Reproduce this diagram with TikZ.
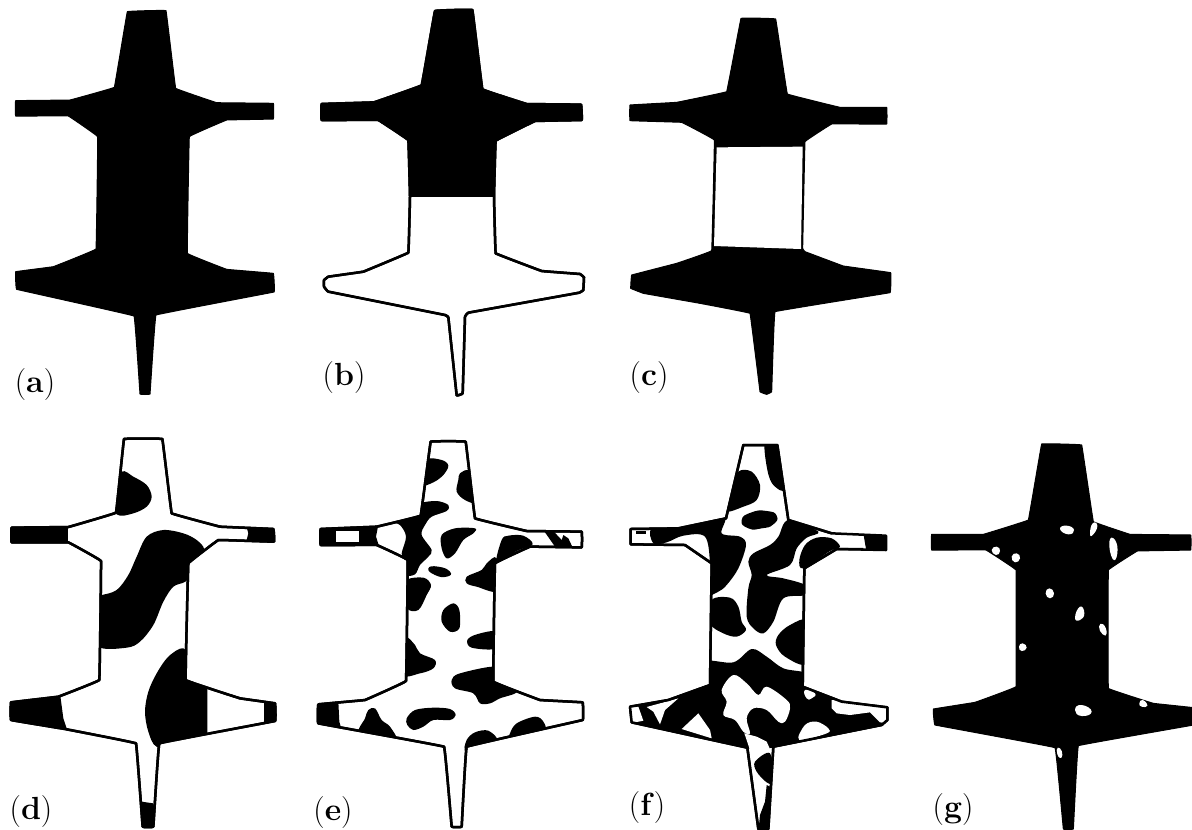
\documentclass[tikz,border=0pt]{standalone}
\tikzset{
  outln/.style={draw=black,line width=1.25pt,line join=round,fill=white},
  edgeonly/.style={draw=black,line width=1.25pt,line join=round},
  solid panel/.style={fill=black,draw=black,line width=0.5pt,line join=round},
  panellabel/.style={font=\fontsize{16}{18}\selectfont,inner sep=0pt},
  zoomed/.style={shift={#1},x=0.166667pt,y=-0.166667pt},
  bent/.style={smooth cycle,tension=.03}
}
\newcommand{\blk}[1]{\fill[black] plot[smooth cycle,tension=.55] coordinates {#1};}
\newcommand{\wht}[1]{\fill[white] plot[smooth cycle,tension=.6] coordinates {#1};}
\newcommand{\wspot}[1]{\fill[white] plot[smooth cycle,tension=1] coordinates {#1};}
\newcommand{\bspot}[1]{\fill[black] plot[smooth cycle,tension=1] coordinates {#1};}
\newcommand{\blkp}[1]{\fill[black] plot[sharp cycle] coordinates {#1};}
\newcommand{\whtp}[1]{\fill[white] plot[sharp cycle] coordinates {#1};}
\def\outA{plot[bent] coordinates {(382,35)(498,32)(527,265)(650,308)(820,310)(820,357)(680,360)(568,410)(562,760)(680,808)(820,820)(822,876)(468,945)(450,1182)(420,1182)(402,948)(50,868)(47,815)(160,800)(288,747)(293,410)(205,348)(47,348)(47,302)(210,300)(343,262)}}
\def\outB{plot[bent] coordinates {(405,33)(517,30)(547,268)(680,312)(843,314)(845,360)(705,363)(587,422)(582,590)(587,760)(725,813)(840,822)(852,832)(850,870)(838,878)(505,938)(495,950)(488,1180)(470,1186)(445,952)(435,945)(85,875)(72,860)(72,840)(85,830)(190,815)(325,758)(330,590)(325,420)(235,360)(65,360)(65,312)(222,307)(365,256)}}
\def\outC{plot[bent] coordinates {(393,55)(497,57)(532,282)(690,322)(830,322)(830,372)(665,372)(585,425)(578,745)(585,755)(700,798)(842,818)(840,878)(495,935)(485,1175)(470,1183)(450,1175)(420,940)(270,910)(100,880)(62,865)(65,825)(200,790)(305,752)(313,420)(215,367)(60,362)(60,315)(200,307)(350,275)}}
\def\outD{plot[bent] coordinates {(372,42)(487,42)(515,265)(660,305)(820,312)(822,350)(655,345)(565,415)(557,765)(720,820)(825,835)(825,888)(478,955)(460,1205)(428,1205)(408,955)(195,912)(33,885)(33,832)(175,815)(298,765)(303,408)(205,352)(35,352)(35,308)(205,306)(348,263)}}
\def\outE{plot[bent] coordinates {(392,50)(497,50)(525,280)(680,318)(845,320)(845,367)(690,365)(585,415)(580,770)(720,825)(848,832)(848,885)(500,965)(485,1205)(455,1205)(432,965)(55,895)(55,838)(195,825)(318,768)(323,405)(230,360)(62,360)(62,312)(230,305)(362,272)}}
\def\outF{plot[sharp cycle] coordinates {(400,60)(502,60)(535,285)(665,325)(828,332)(828,375)(680,372)(583,430)(578,785)(695,830)(832,847)(832,885)(815,900)(490,965)(475,1212)(445,1212)(412,968)(65,892)(60,845)(175,825)(300,780)(305,415)(225,360)(62,358)(62,312)(205,310)(348,280)}}
\def\outG{plot[bent] coordinates {(425,57)(545,60)(580,290)(690,328)(872,330)(872,375)(712,378)(625,435)(625,790)(760,835)(880,848)(880,900)(535,962)(520,1212)(490,1212)(465,968)(105,900)(100,852)(225,832)(348,785)(348,435)(258,375)(95,375)(95,328)(250,328)(385,285)}}
\begin{document}
\begin{tikzpicture}[x=0.5pt,y=-0.5pt]
\useasboundingbox (0,0) rectangle (1192,829);
% (a)
\begin{scope}[zoomed={(0,0)}]
  \path[solid panel] \outA;
\end{scope}
% (b)
\begin{scope}[zoomed={(300,0)}]
  \path[outln] \outB;
  \begin{scope}
    \clip \outB;
    \blkp{(0,0)(900,0)(900,592)(0,592)}
  \end{scope}
  \path[edgeonly] \outB;
\end{scope}
% (c)
\begin{scope}[zoomed={(610,0)}]
  \path[solid panel] \outC;
  \whtp{(320,442)(578,440)(573,747)(312,738)}
\end{scope}
% (d)
\begin{scope}[zoomed={(0,425)}]
  \path[outln] \outD;
  \begin{scope}
    \clip \outD;
    \blk{(365,140)(400,155)(440,180)(455,215)(440,245)(400,265)(350,268)(330,200)}
    \blkp{(20,295)(205,295)(205,365)(20,365)}
    \blkp{(738,300)(745,325)(738,352)(835,360)(835,300)}
    \blk{(305,510)(350,495)(385,450)(410,395)(440,335)(490,315)(550,325)(590,345)(612,372)(590,400)(580,440)(556,470)(520,485)(490,530)(460,600)(420,650)(380,668)(295,665)(285,590)(285,510)}
    \blk{(550,670)(505,695)(470,745)(445,800)(435,860)(445,920)(470,965)(530,950)(530,760)(570,720)}
    \blkp{(510,690)(575,670)(575,760)(622,790)(622,935)(470,965)}
    \blkp{(180,805)(190,880)(205,925)(20,900)(20,820)}
    \blkp{(792,825)(792,895)(835,895)(835,825)}
    \blkp{(425,1130)(460,1135)(475,1215)(415,1215)}
  \end{scope}
  \path[edgeonly] \outD;
\end{scope}
% (e)
\begin{scope}[zoomed={(300,425)}]
  \path[outln] \outE;
  \begin{scope}
    \clip \outE;
    \blk{(375,105)(425,105)(445,122)(430,150)(400,172)(365,178)}
    \blk{(480,145)(510,140)(530,230)(495,225)(470,200)(475,165)}
    \blk{(360,235)(410,228)(445,240)(440,258)(395,275)(375,300)(365,330)(395,375)(385,395)(360,420)(345,448)(315,450)(312,410)(305,385)(318,335)(300,300)(270,285)(360,255)}
    \blkp{(45,300)(235,300)(228,335)(240,372)(45,372)}
    \whtp{(108,317)(178,317)(178,352)(108,352)}
    \blk{(425,330)(465,310)(525,310)(520,325)(490,345)(465,385)(440,400)(425,370)}
    \bspot{(385,430)(415,425)(450,440)(440,455)(405,450)}
    \blk{(315,470)(370,458)(393,480)(380,510)(355,555)(320,548)}
    \blk{(590,400)(560,415)(545,435)(500,455)(500,475)(530,485)(595,497)}
    \blk{(430,555)(460,535)(478,555)(478,610)(450,620)(425,590)}
    \blk{(590,620)(530,628)(502,645)(515,668)(590,670)}
    \blk{(315,640)(345,660)(360,685)(405,705)(400,730)(360,745)(305,748)}
    \blk{(590,725)(480,745)(455,765)(465,790)(520,805)(540,835)(570,835)(600,820)(650,800)(590,770)}
    \blkp{(45,830)(115,830)(118,890)(125,915)(45,905)}
    \blk{(205,855)(225,850)(245,885)(270,905)(285,945)(180,925)(195,880)}
    \blk{(320,880)(345,855)(400,848)(450,852)(467,870)(450,885)(400,885)(370,905)(340,915)(322,900)}
    \blk{(500,945)(525,922)(565,917)(590,950)(500,980)}
    \blk{(630,925)(650,895)(705,875)(730,890)(730,920)(630,950)}
    \blkp{(730,315)(757,315)(785,345)(790,330)(805,340)(820,372)(770,372)}
    \blk{(605,345)(625,332)(670,332)(698,358)(650,378)(590,415)}
  \end{scope}
  \path[edgeonly] \outE;
\end{scope}
% (f)
\begin{scope}[zoomed={(610,425)}]
  \path[outln] \outF;
  \begin{scope}
    \clip \outF;
    \blk{(465,50)(510,50)(525,190)(490,180)(472,135)}
    \blk{(385,140)(425,140)(450,180)(440,225)(400,245)(350,258)(365,200)}
    \bspot{(395,285)(425,262)(470,258)(500,272)(490,298)(455,310)(415,310)}
    \blkp{(78,318)(108,318)(108,326)(78,326)}
    \blk{(125,310)(205,308)(340,275)(335,325)(390,335)(408,360)(385,430)(350,480)(325,500)(295,505)(300,420)(285,335)(220,332)(170,352)(130,355)}
    \blk{(505,335)(535,285)(625,320)(590,338)(560,370)(540,420)(470,450)(520,460)(585,480)(585,510)(520,520)(490,590)(460,625)(430,610)(410,575)(415,490)(425,450)(415,410)(430,385)(480,360)}
    \blk{(585,360)(620,338)(665,340)(690,365)(660,378)(580,430)(568,405)}
    \blk{(305,525)(360,518)(385,545)(395,590)(408,615)(380,635)(340,625)(300,595)}
    \blk{(590,590)(540,600)(505,630)(498,660)(525,695)(590,715)}
    \blkp{(760,325)(835,325)(835,382)(770,382)(765,355)}
    \blk{(280,710)(370,712)(425,672)(470,695)(520,730)(590,745)(600,785)(900,840)(900,920)(490,968)(405,968)(40,910)(40,830)(280,785)}
    \wht{(370,750)(410,775)(445,810)(470,785)(530,825)(540,850)(525,890)(505,890)(470,855)(430,850)(410,880)(420,925)(400,920)(375,885)(340,870)(350,830)(335,795)}
    \wspot{(585,795)(615,805)(605,820)(590,820)}
    \whtp{(665,825)(840,840)(840,895)(810,892)(780,862)(720,870)(680,865)(665,850)}
    \wht{(568,945)(585,900)(620,890)(655,910)(650,925)}
    \whtp{(215,912)(265,865)(300,915)(305,940)}
    \whtp{(110,846)(205,820)(165,855)(150,898)(130,860)}
    \whtp{(55,842)(85,845)(100,887)(60,895)}
    \whtp{(403,925)(440,935)(470,950)(478,968)(475,985)(445,992)(430,1010)(420,975)}
    \blk{(435,1010)(480,985)(490,1070)(470,1072)(440,1040)}
    \blkp{(470,1080)(490,1090)(480,1220)(445,1220)(450,1170)(465,1130)}
  \end{scope}
  \draw[edgeonly] (760,372) -- (680,372) -- (583,430) -- (578,785) -- (695,830) -- (832,847) -- (832,885) -- (815,900) -- (490,965) -- (475,1212) -- (445,1212) -- (412,968) -- (65,892) -- (60,845) -- (175,825) -- (300,780) -- (305,415) -- (225,360) -- (62,358) -- (62,312) -- (205,310) -- (348,280) -- (400,60) -- (502,60) -- (535,285) -- (665,325);
\end{scope}
% (g)
\begin{scope}[zoomed={(900,425)}]
  \path[solid panel] \outG;
  \wspot{(480,312)(500,302)(522,315)(505,328)}
  \wspot{(570,325)(578,295)(592,303)(578,330)}
  \wspot{(628,350)(645,345)(652,385)(638,402)}
  \wspot{(275,375)(290,365)(300,378)(288,390)}
  \wspot{(335,395)(350,385)(360,400)(345,412)}
  \wspot{(437,505)(448,490)(462,505)(450,520)}
  \wspot{(525,578)(540,545)(553,565)(540,585)}
  \wspot{(597,605)(610,598)(620,625)(608,628)}
  \wspot{(357,665)(368,655)(380,668)(365,678)}
  \wspot{(525,855)(545,840)(575,860)(545,873)}
  \wspot{(718,835)(728,825)(742,842)(725,845)}
  \wspot{(470,975)(480,970)(487,990)(478,998)}
\end{scope}
% labels
\node[panellabel] (la) at (35,385) {(\textbf{a})};
\node[panellabel] (lb) at (344,378) {(\textbf{b})};
\node[panellabel] (lc) at (649,378) {(\textbf{c})};
\node[panellabel] (ld) at (31,812) {(\textbf{d})};
\node[panellabel] (le) at (333,813) {(\textbf{e})};
\node[panellabel] (lf) at (647,808) {(\textbf{f})};
\node[panellabel] (lg) at (953,810) {(\textbf{g})};
\end{tikzpicture}
\end{document}
